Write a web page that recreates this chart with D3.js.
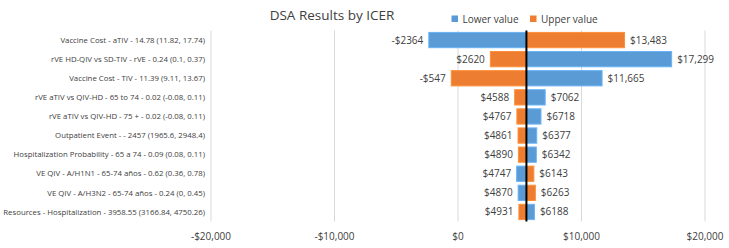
<!DOCTYPE html>
<html lang="en">
<head>
    <meta charset="UTF-8">
    <title>DSA Results by ICER</title>
    <script src="https://d3js.org/d3.v7.min.js"></script>
    <style>
        body { margin: 0; background: white; }
        svg { font-family: "Open Sans", "Liberation Sans", sans-serif; }
        .catLabel { font-size: 7.8px; fill: #404040; }
        .valLabel { font-size: 10px; fill: #404040; }
        .tickLabel { font-size: 10px; fill: #404040; }
    </style>
</head>
<body>
    <svg width="729" height="248"></svg>
    <script>
        // parameters, top to bottom
        const categories = [
            "Vaccine Cost - aTIV - 14.78 (11.82, 17.74)",
            "rVE HD-QIV vs SD-TIV - rVE - 0.24 (0.1, 0.37)",
            "Vaccine Cost - TIV - 11.39 (9.11, 13.67)",
            "rVE aTIV vs QIV-HD - 65 to 74 - 0.02 (-0.08, 0.11)",
            "rVE aTIV vs QIV-HD - 75 + - 0.02 (-0.08, 0.11)",
            "Outpatient Event -  - 2457 (1965.6, 2948.4)",
            "Hospitalization Probability - 65 a 74 - 0.09 (0.08, 0.11)",
            "VE QIV - A/H1N1 - 65-74 años - 0.62 (0.36, 0.78)",
            "VE QIV - A/H3N2 - 65-74 años - 0.24 (0, 0.45)",
            "Resources - Hospitalization - 3958.55 (3166.84, 4750.26)"
        ];
        const lowerValue = [-2364, 17299, 11665, 7062, 6718, 6377, 6342, 4747, 4870, 6188];
        const upperValue = [13483, 2620, -547, 4588, 4767, 4861, 4890, 6143, 6263, 4931];
        const baseICER = 5540;
        const xTicks = [-20000, -10000, 0, 10000, 20000];

        const svg = d3.select("svg");

        const x = d3.scaleLinear().domain([-20000, 20000]).range([211, 705]);
        const y = d3.scaleBand().domain(categories).range([30.5, 221.5]).paddingInner(0.2).paddingOuter(0.1);

        const blue = "#5B9BD5", orange = "#ED7D31";

        // gridlines
        svg.append("g").selectAll("line").data(xTicks).enter().append("line")
            .attr("x1", d => x(d)).attr("x2", d => x(d))
            .attr("y1", 30.5).attr("y2", 221.5)
            .attr("stroke", "#d9d9d9").attr("stroke-width", 1);

        // tick labels
        const fmt = v => (v < 0 ? "-$" : "$") + d3.format(",")(Math.abs(v));
        svg.append("g").selectAll("text").data(xTicks).enter().append("text")
            .attr("class", "tickLabel")
            .attr("x", d => x(d)).attr("y", 240)
            .attr("text-anchor", "middle")
            .text(d => fmt(d));

        // category labels
        svg.append("g").selectAll("text").data(categories).enter().append("text")
            .attr("class", "catLabel")
            .attr("x", 205).attr("y", d => y(d) + y.bandwidth() / 2)
            .attr("dy", "0.35em")
            .attr("text-anchor", "end")
            .text(d => d);

        const rows = categories.map((c, i) => ({ cat: c, lo: lowerValue[i], hi: upperValue[i] }));

        function drawBars(key, color) {
            svg.append("g").selectAll("rect").data(rows).enter().append("rect")
                .attr("x", d => Math.min(x(d[key]), x(baseICER)))
                .attr("width", d => Math.abs(x(d[key]) - x(baseICER)))
                .attr("y", d => y(d.cat))
                .attr("height", y.bandwidth())
                .attr("fill", color)
                .attr("stroke", d3.color(color).brighter(0.4))
                .attr("stroke-width", 1);
        }
        drawBars("lo", blue);
        drawBars("hi", orange);

        // value labels
        const labelFmt = v => {
            const s = Math.abs(v) >= 10000 ? d3.format(",")(Math.abs(v)) : String(Math.abs(v));
            return (v < 0 ? "-$" : "$") + s;
        };
        rows.forEach(d => {
            const mn = Math.min(d.lo, d.hi), mx = Math.max(d.lo, d.hi);
            const yc = y(d.cat) + y.bandwidth() / 2;
            svg.append("text").attr("class", "valLabel")
                .attr("x", Math.min(x(mn), x(baseICER)) - 5.5).attr("y", yc).attr("dy", "0.35em")
                .attr("text-anchor", "end").text(labelFmt(mn));
            svg.append("text").attr("class", "valLabel")
                .attr("x", Math.max(x(mx), x(baseICER)) + 5.5).attr("y", yc).attr("dy", "0.35em")
                .attr("text-anchor", "start").text(labelFmt(mx));
        });

        // base case line
        svg.append("line")
            .attr("x1", x(baseICER)).attr("x2", x(baseICER))
            .attr("y1", 30.5).attr("y2", 221.5)
            .attr("stroke", "black").attr("stroke-width", 2);

        // title
        svg.append("text")
            .attr("x", 332).attr("y", 20)
            .attr("text-anchor", "middle")
            .attr("font-size", "13.5px").attr("fill", "#404040")
            .text("DSA Results by ICER");

        // legend
        const legend = [["Lower value", blue, 451.5], ["Upper value", orange, 530]];
        legend.forEach(([name, color, lx]) => {
            svg.append("rect").attr("x", lx).attr("y", 15.5).attr("width", 6.5).attr("height", 6.5).attr("fill", color);
            svg.append("text").attr("x", lx + 11).attr("y", 19).attr("dy", "0.35em")
                .attr("font-size", "10px").attr("fill", "#404040").text(name);
        });
    </script>
</body>
</html>
